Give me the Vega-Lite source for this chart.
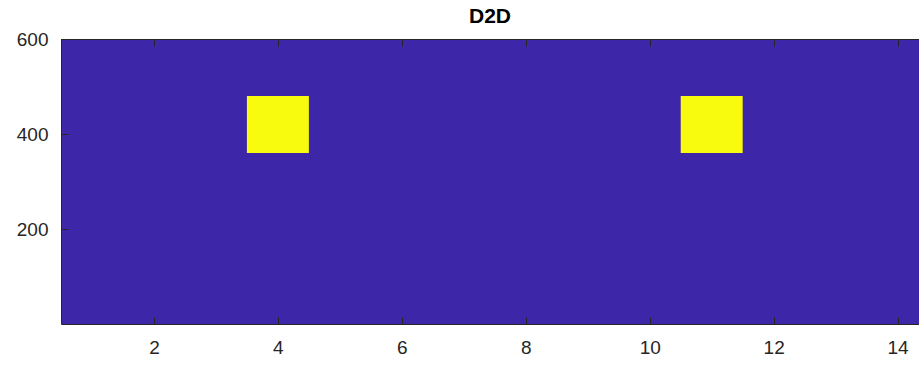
{
  "$schema": "https://vega.github.io/schema/vega-lite/v6.json",
  "autosize": {"type": "none"},
  "padding": {"left": 61, "top": 39, "right": 0, "bottom": 41},
  "width": 858,
  "height": 285,
  "background": "white",
  "title": {"text": "D2D", "font": "Liberation Sans", "fontSize": 21, "fontWeight": "bold", "color": "#000000", "anchor": "middle", "offset": 3},
  "config": {"view": {"stroke": null}},
  "data": {"values": [
    {"x0": 0.5, "x1": 15.5, "y0": 0.5, "y1": 600.5, "v": 0},
    {"x0": 3.5, "x1": 4.5, "y0": 360.5, "y1": 480.5, "v": 1},
    {"x0": 10.5, "x1": 11.5, "y0": 360.5, "y1": 480.5, "v": 1}
  ]},
  "resolve": {"axis": {"x": "independent", "y": "independent"}},
  "layer": [
    {
      "mark": {"type": "rect", "clip": true},
      "encoding": {
        "x": {"field": "x0", "type": "quantitative",
          "scale": {"domain": [0.5, 14.345], "nice": false, "zero": false},
          "axis": {"orient": "bottom", "title": null, "values": [2, 4, 6, 8, 10, 12, 14], "grid": false, "zindex": 1,
            "tickSize": -7, "tickColor": "#262626", "domainColor": "#262626", "domainWidth": 1,
            "labelFont": "Liberation Sans", "labelFontSize": 19, "labelColor": "#262626", "labelPadding": 21}},
        "x2": {"field": "x1"},
        "y": {"field": "y0", "type": "quantitative",
          "scale": {"domain": [0.5, 600.5], "nice": false, "zero": false},
          "axis": {"orient": "left", "title": null, "values": [200, 400, 600], "grid": false, "zindex": 1,
            "tickSize": -7, "tickColor": "#262626", "domainColor": "#262626", "domainWidth": 1,
            "labelFont": "Liberation Sans", "labelFontSize": 19, "labelColor": "#262626", "labelPadding": 20}},
        "y2": {"field": "y1"},
        "color": {"field": "v", "type": "quantitative",
          "scale": {"domain": [0, 1], "range": ["#3E26A8", "#F9FB0E"]}, "legend": null}
      }
    },
    {
      "mark": {"type": "rect", "opacity": 0},
      "encoding": {
        "x": {"field": "x0", "type": "quantitative",
          "axis": {"orient": "top", "title": null, "values": [2, 4, 6, 8, 10, 12, 14], "grid": false, "labels": false, "zindex": 1,
            "tickSize": -7, "tickColor": "#262626", "domainColor": "#262626", "domainWidth": 1}},
        "y": {"field": "y0", "type": "quantitative", "axis": null}
      }
    }
  ]
}
